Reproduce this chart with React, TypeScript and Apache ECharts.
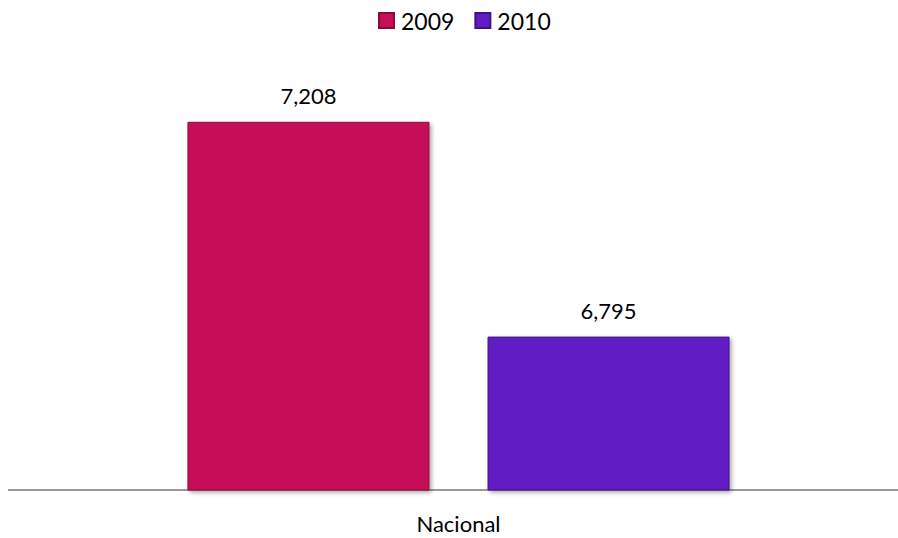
import React, { useEffect, useRef } from "react";
import * as echarts from "echarts";

const categories = ["Nacional"];
const seriesNames = ["2009", "2010"];
const values2009 = [7208];
const values2010 = [6795];
const colors = ["#C70E58", "#621CC4"];
const borderColors = ["#8A0A3D", "#3F1283"];

const FONT = "Lato, 'Open Sans', sans-serif";

export default function App() {
  const ref = useRef<HTMLDivElement>(null);
  useEffect(() => {
    if (!ref.current) return;
    const chart = echarts.init(ref.current, undefined, { renderer: "svg" });
    const data = [values2009, values2010];
    chart.setOption({
      animation: false,
      backgroundColor: "#ffffff",
      legend: {
        top: 4,
        left: 373,
        itemWidth: 15,
        itemHeight: 15,
        itemGap: 20,
        icon: "rect",
        textStyle: { fontFamily: FONT, fontSize: 23, color: "#000", padding: [0, 0, 0, 2] },
        data: seriesNames,
      },
      grid: { left: 19, right: 0, top: 22, bottom: 48, containLabel: false },
      graphic: [
        {
          type: "line",
          z: 1,
          shape: { x1: 8, y1: 490, x2: 898, y2: 490 },
          style: { stroke: "#999999", lineWidth: 2 },
        },
      ],
      xAxis: {
        type: "category",
        data: categories,
        axisLine: { show: false },
        axisTick: { show: false },
        axisLabel: { fontFamily: FONT, fontSize: 22, color: "#000", margin: 22 },
      },
      yAxis: {
        type: "value",
        min: 6500,
        max: 7400,
        show: false,
        splitLine: { show: false },
      },
      series: seriesNames.map((name, i) => ({
        name,
        type: "bar",
        z: 5,
        data: data[i],
        barWidth: 242,
        barGap: "24%",
        itemStyle: {
          color: colors[i],
          borderColor: borderColors[i],
          borderWidth: 1,
          shadowColor: "rgba(0,0,0,0.35)",
          shadowBlur: 4,
          shadowOffsetX: 2,
          shadowOffsetY: 2,
        },
        label: {
          show: true,
          position: "top",
          distance: 15,
          fontFamily: FONT,
          fontSize: 22,
          color: "#000",
          formatter: (p: any) => Number(p.value).toLocaleString("en-US"),
        },
      })),
    });
    return () => chart.dispose();
  }, []);
  return (
    <div
      ref={ref}
      style={{ position: "absolute", left: 0, top: 0, width: 898, height: 538 }}
    />
  );
}
